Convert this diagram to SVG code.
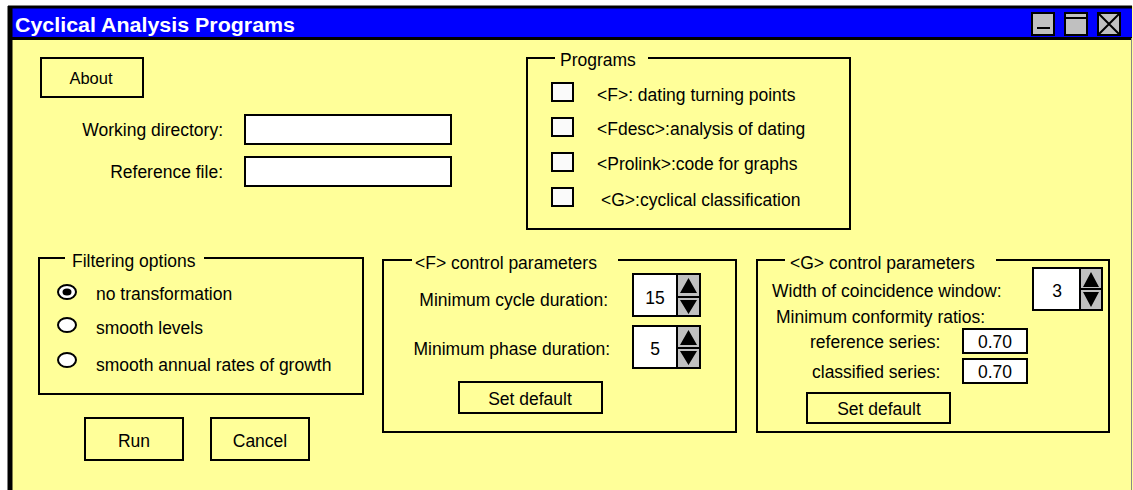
<svg xmlns="http://www.w3.org/2000/svg" width="1133" height="490" viewBox="0 0 1133 490">
<style>
text{font-family:"Liberation Sans",Arial,sans-serif;font-size:17.5px;fill:#000}
.t{font-size:20px;font-weight:bold;fill:#fff}
.c{text-anchor:middle}
.r{text-anchor:end}
.btn{fill:#FFFF99;stroke:#000;stroke-width:2}
.fld{fill:#fff;stroke:#000;stroke-width:2}
.grp{fill:none;stroke:#000;stroke-width:2}
.chk{fill:#FAFAFA;stroke:#000;stroke-width:2}
.arr{fill:#C0C0C0;stroke:#000;stroke-width:2}
.ico{fill:#C0C0C0;stroke:#000;stroke-width:2}
</style>
<rect x="0" y="0" width="1133" height="490" fill="#fff"/>
<g id="window">
<rect x="8" y="6" width="1130" height="490" fill="#FFFF99"/>
<rect x="8" y="6" width="1124" height="33" fill="#0000FF"/>
<line x1="8" y1="7" x2="1132" y2="7" stroke="#000" stroke-width="3"/>
<line x1="8" y1="38.5" x2="1132" y2="38.5" stroke="#000" stroke-width="3"/>
<line x1="10" y1="6" x2="10" y2="490" stroke="#000" stroke-width="5"/>
<line x1="1131.5" y1="38" x2="1131.5" y2="490" stroke="#888" stroke-width="1"/>
<text class="t" x="15" y="32" textLength="280" lengthAdjust="spacingAndGlyphs">Cyclical Analysis Programs</text>
</g>
<g id="window-icons">
<rect class="ico" x="1032" y="13" width="22" height="22"/>
<line x1="1037" y1="28" x2="1050" y2="28" stroke="#000" stroke-width="2"/>
<rect class="ico" x="1065" y="13" width="22" height="22"/>
<line x1="1065" y1="18" x2="1087" y2="18" stroke="#000" stroke-width="2"/>
<rect class="ico" x="1098" y="13" width="22" height="22"/>
<path d="M1098 13L1120 35M1120 13L1098 35" stroke="#000" stroke-width="2"/>
</g>
<g id="about">
<rect class="btn" x="41" y="58" width="102" height="39"/>
<text class="c" x="91" y="84" style="font-size:16.5px">About</text>
</g>
<g id="working-directory">
<text class="r" x="223" y="136">Working directory:</text>
<rect class="fld" x="245" y="115" width="206" height="29"/>
</g>
<g id="reference-file">
<text class="r" x="223" y="178">Reference file:</text>
<rect class="fld" x="245" y="157" width="206" height="29"/>
</g>
<g id="programs">
<path class="grp" d="M555 58H527V229H850V58H648"/>
<text x="560" y="66">Programs</text>
<rect class="chk" x="552" y="83" width="21" height="18"/>
<text x="597" y="101">&lt;F&gt;: dating turning points</text>
<rect class="chk" x="552" y="118" width="21" height="18"/>
<text x="597" y="135">&lt;Fdesc&gt;:analysis of dating</text>
<rect class="chk" x="552" y="153" width="21" height="18"/>
<text x="597" y="170">&lt;Prolink&gt;:code for graphs</text>
<rect class="chk" x="552" y="188" width="21" height="18"/>
<text x="601" y="206">&lt;G&gt;:cyclical classification</text>
</g>
<g id="filtering-options">
<path class="grp" d="M65 258H39V394H363V258H204"/>
<text x="72" y="267">Filtering options</text>
<ellipse cx="67" cy="292" rx="9" ry="7" fill="#fff" stroke="#000" stroke-width="2"/>
<ellipse cx="67" cy="292" rx="4.5" ry="3.5" fill="#000"/>
<text x="96" y="300">no transformation</text>
<ellipse cx="67" cy="325" rx="9" ry="7" fill="#fff" stroke="#000" stroke-width="2"/>
<text x="96" y="334">smooth levels</text>
<ellipse cx="67" cy="360" rx="9" ry="7" fill="#fff" stroke="#000" stroke-width="2"/>
<text x="96" y="371">smooth annual rates of growth</text>
</g>
<g id="run">
<rect class="btn" x="85" y="418" width="98" height="42"/>
<text class="c" x="134" y="447">Run</text>
</g>
<g id="cancel">
<rect class="btn" x="211" y="418" width="98" height="42"/>
<text class="c" x="260" y="447">Cancel</text>
</g>
<g id="f-control-parameters">
<path class="grp" d="M412 260H383V432H736V260H618"/>
<text x="415" y="269">&lt;F&gt; control parameters</text>
<text class="r" x="608" y="306">Minimum cycle duration:</text>
<rect class="fld" x="633" y="274" width="44" height="42"/>
<rect class="arr" x="677" y="274" width="23" height="42"/>
<line x1="677" y1="297" x2="700" y2="297" stroke="#000" stroke-width="2"/>
<path d="M688.5 278L680 293H697Z M688.5 314L680 300H697Z" fill="#000"/>
<text class="c" x="655" y="304">15</text>
<text class="r" x="610" y="355">Minimum phase duration:</text>
<rect class="fld" x="633" y="326" width="44" height="42"/>
<rect class="arr" x="677" y="326" width="23" height="42"/>
<line x1="677" y1="348" x2="700" y2="348" stroke="#000" stroke-width="2"/>
<path d="M688.5 330L680 345H697Z M688.5 365L680 351H697Z" fill="#000"/>
<text class="c" x="655" y="355">5</text>
<rect class="btn" x="459" y="382" width="143" height="31"/>
<text class="c" x="530" y="405">Set default</text>
</g>
<g id="g-control-parameters">
<path class="grp" d="M785 260H757V432H1109V260H996"/>
<text x="790" y="269">&lt;G&gt; control parameters</text>
<text x="772" y="297">Width of coincidence window:</text>
<rect class="fld" x="1033" y="268" width="47" height="42"/>
<rect class="arr" x="1080" y="268" width="22" height="42"/>
<line x1="1080" y1="289" x2="1102" y2="289" stroke="#000" stroke-width="2"/>
<path d="M1091 272L1083 287H1099Z M1091 307L1083 292H1099Z" fill="#000"/>
<text class="c" x="1057" y="297">3</text>
<text x="776" y="323">Minimum conformity ratios:</text>
<text x="810" y="348">reference series:</text>
<rect class="fld" x="963" y="329" width="64" height="24"/>
<text class="c" x="995" y="348">0.70</text>
<text x="812" y="378">classified series:</text>
<rect class="fld" x="963" y="359" width="64" height="24"/>
<text class="c" x="995" y="378">0.70</text>
<rect class="btn" x="807" y="393" width="143" height="30"/>
<text class="c" x="879" y="415">Set default</text>
</g>
</svg>
